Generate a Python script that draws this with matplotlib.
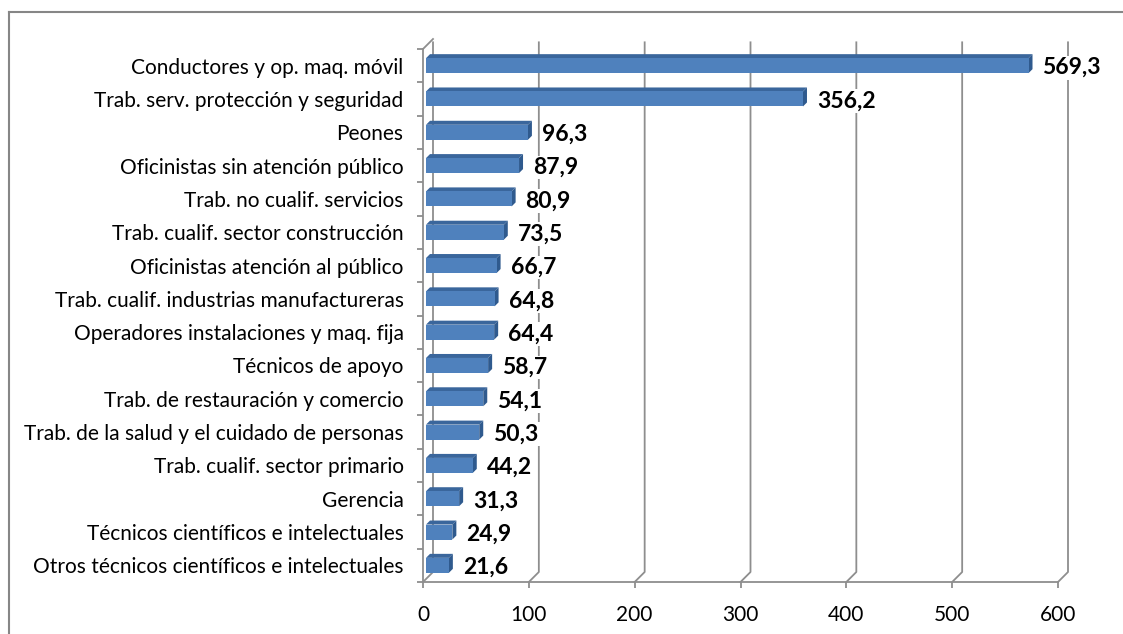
import numpy as np
import matplotlib
matplotlib.use('Agg')
import matplotlib.pyplot as plt
from matplotlib.patches import Polygon
from matplotlib.lines import Line2D

# Data (top to bottom)
categories = ['Conductores y op. maq. móvil', 'Trab. serv. protección y seguridad', 'Peones',
    'Oficinistas sin atención público', 'Trab. no cualif. servicios', 'Trab. cualif. sector construcción',
    'Oficinistas atención al público', 'Trab. cualif. industrias manufactureras',
    'Operadores instalaciones y maq. fija', 'Técnicos de apoyo', 'Trab. de restauración y comercio',
    'Trab. de la salud y el cuidado de personas', 'Trab. cualif. sector primario', 'Gerencia',
    'Técnicos científicos e intelectuales', 'Otros técnicos científicos e intelectuales']
values = [569.3, 356.2, 96.3, 87.9, 80.9, 73.5, 66.7, 64.8, 64.4, 58.7, 54.1, 50.3, 44.2, 31.3, 24.9, 21.6]
x_ticks = [0, 100, 200, 300, 400, 500, 600]

W, H, DPI = 1123, 634, 100
font = 'Lato'
grid_col = '#8e8e8e'
face_col = '#4f81bd'
dark_col = '#3a669c'

fig = plt.figure(figsize=(W / DPI, H / DPI), dpi=DPI)

# Front plane of the 3D box, in pixels
left_px, right_px, bot_px, top_px = 423, 1058, 582, 49
ax = fig.add_axes([left_px / W, 1 - bot_px / H, (right_px - left_px) / W, (bot_px - top_px) / H])

n = len(categories)
ax.set_xlim(0, 600)
ax.set_ylim(n - 0.5, -0.5)

# Pixel -> data unit conversions
sx = 600 / (right_px - left_px)
sy = n / (bot_px - top_px)
depth = 10          # depth of the back wall in px
dx, dy = depth * sx, depth * sy

# Spines and ticks
for s in ['top', 'right']:
    ax.spines[s].set_visible(False)
for s in ['left', 'bottom']:
    ax.spines[s].set_color(grid_col)
    ax.spines[s].set_linewidth(1.3)

ax.set_xticks(x_ticks)
ax.set_xticklabels([str(v) for v in x_ticks], fontsize=15, family=font)
ax.tick_params(axis='x', length=4.5, width=1.3, color=grid_col, pad=12)
ax.set_yticks(range(n))
ax.set_yticklabels(categories, fontsize=15, family=font, va='center_baseline')
ax.tick_params(axis='y', which='major', length=0, pad=14)
ax.set_yticks(np.arange(-0.5, n), minor=True)
ax.tick_params(axis='y', which='minor', length=4.5, width=1.3, color=grid_col)

# Back wall: gridlines with the floor diagonals
ybot, ytop = n - 0.5, -0.5
for v in x_ticks:
    ax.add_line(Line2D([v, v + dx, v + dx], [ybot, ybot - dy, ytop - dy + 0.1],
        color=grid_col, lw=1.3, clip_on=False, zorder=1))
# Left wall top diagonal
ax.add_line(Line2D([0, dx], [ytop, ytop - dy], color=grid_col, lw=1.3, clip_on=False, zorder=1))

# 3D bars
bh = 0.45
bd = 4            # bar depth px
bx0 = 3 * sx      # bar start offset from front axis
for i, v in enumerate(values):
    y0, y1 = i - bh / 2, i + bh / 2
    x0, x1 = bx0, bx0 + v
    ddx, ddy = bd * sx, bd * sy
    top = Polygon([(x0, y0), (x1, y0), (x1 + ddx, y0 - ddy), (x0 + ddx, y0 - ddy)],
        closed=True, facecolor=dark_col, edgecolor='none', zorder=3, clip_on=False)
    side = Polygon([(x1, y0), (x1 + ddx, y0 - ddy), (x1 + ddx, y1 - ddy), (x1, y1)],
        closed=True, facecolor='#2f5a8e', edgecolor='none', zorder=3, clip_on=False)
    ax.add_patch(top)
    ax.add_patch(side)
    ax.barh(i, v, left=x0, height=bh, color=face_col, zorder=4, clip_on=False)

    # Value label
    ax.text(x1 + 14 * sx, i, f'{v:.1f}'.replace('.', ','), ha='left', va='center_baseline',
        fontsize=16.5, fontweight='bold', family=font, color='black', zorder=5,
        bbox=dict(facecolor='white', edgecolor='none', pad=1))

# Chart area border
fig.add_artist(Line2D([9 / W, 9 / W], [0, 1 - 12 / H], transform=fig.transFigure, color='#868686', lw=1.5))
fig.add_artist(Line2D([9 / W, 1], [1 - 12 / H, 1 - 12 / H], transform=fig.transFigure, color='#868686', lw=1.5))

fig.savefig('out.png', dpi=DPI)
